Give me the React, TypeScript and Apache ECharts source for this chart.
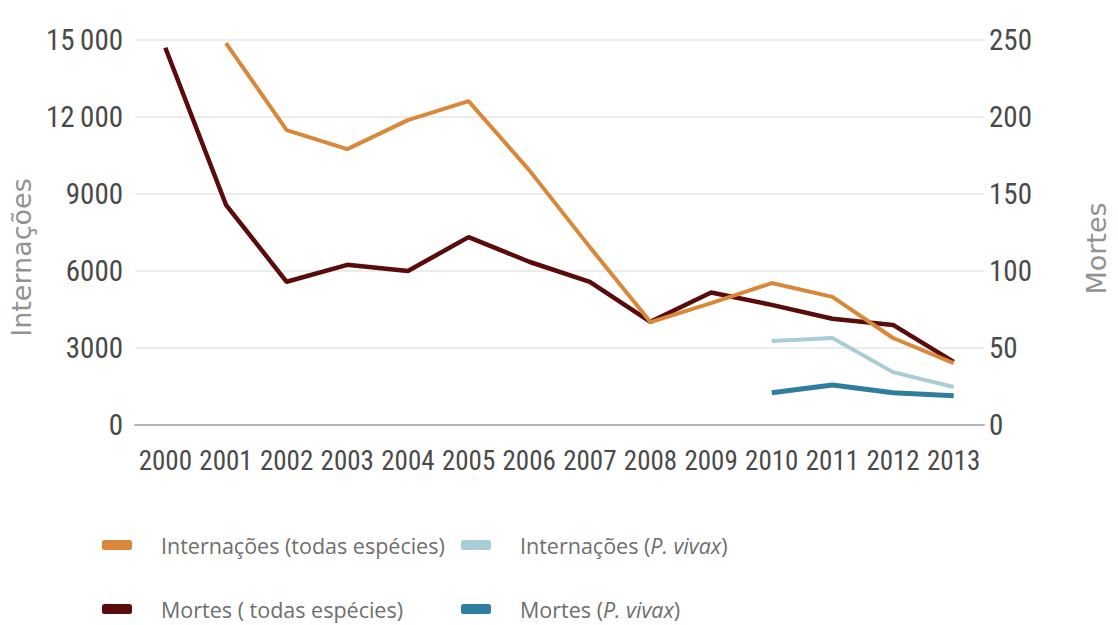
import React, { useEffect, useRef } from "react";
import * as echarts from "echarts";

const years = ["2000","2001","2002","2003","2004","2005","2006","2007","2008","2009","2010","2011","2012","2013"];
const internacoesTodas = [null, 14880, 11490, 10750, 11880, 12620, 9930, 6930, 4010, 4750, 5530, 4990, 3390, 2410];
const mortesTodas = [245, 143, 93, 104, 100, 122, 106, 93, 67, 86, 78, 69, 65, 41];
const internacoesVivax = [null, null, null, null, null, null, null, null, null, null, 3270, 3390, 2060, 1480];
const mortesVivax = [null, null, null, null, null, null, null, null, null, null, 21, 26, 21, 19];

const leftTicks = { min: 0, max: 15000, interval: 3000 };
const rightTicks = { min: 0, max: 250, interval: 50 };

const C_ORANGE = "#D9883A";
const C_DARK = "#5A0B0B";
const C_LIGHT = "#A8CDD4";
const C_BLUE = "#2F7E9F";

const legendFont = "Open Sans";
const nameFont = "DejaVu Sans";
const tickFont = "Roboto Condensed";

export default function App() {
  const ref = useRef<HTMLDivElement>(null);
  useEffect(() => {
    document.body.style.margin = "0";
    if (!ref.current) return;
    const chart = echarts.init(ref.current, undefined, { renderer: "svg" });
    const legendText = {
      color: "#6e6e6e",
      fontSize: 21.5,
      fontFamily: legendFont,
      padding: [0, 0, 0, 24],
      rich: {
        i: { fontStyle: "italic", color: "#6e6e6e", fontSize: 21.5, fontFamily: legendFont },
      },
    };
    const fmt = (name: string) => {
      if (name.indexOf("P. vivax") >= 0) {
        return name.replace("P. vivax", "{i|P. vivax}");
      }
      return name;
    };
    const mkLegend = (name: string, left: number, top: number) => ({
      data: [name],
      left,
      top,
      itemWidth: 30,
      itemHeight: 10,
      icon: "roundRect",
      formatter: fmt,
      textStyle: legendText,
    });
    const tickLabel = { color: "#4a4a4a", fontSize: 29, fontFamily: tickFont };
    chart.setOption({
      animation: false,
      backgroundColor: "#ffffff",
      grid: { left: 123, right: 121, top: 40, bottom: 200, containLabel: false },
      legend: [
        mkLegend("Internações (todas espécies)", 97, 529),
        mkLegend("Mortes ( todas espécies)", 97, 593),
        mkLegend("Internações (P. vivax)", 456, 529),
        mkLegend("Mortes (P. vivax)", 456, 593),
      ],
      xAxis: {
        type: "category",
        data: years,
        boundaryGap: true,
        axisLine: { lineStyle: { color: "#b5b5b5", width: 2 } },
        axisTick: { alignWithLabel: true, interval: 0, length: 8, lineStyle: { color: "#b5b5b5", width: 1 } },
        axisLabel: { ...tickLabel, fontSize: 27, interval: 0, margin: 22 },
        splitLine: { show: false },
      },
      yAxis: [
        {
          type: "value",
          ...leftTicks,
          position: "left",
          name: "Internações",
          nameLocation: "middle",
          nameRotate: 90,
          nameGap: 92,
          nameTextStyle: { color: "#929292", fontSize: 27, fontFamily: nameFont, padding: [0, 50, 0, 0] },
          axisLine: { show: false },
          axisTick: { show: false },
          axisLabel: {
            ...tickLabel,
            margin: 12,
            formatter: (v: number) => (v >= 10000 ? String(Math.floor(v / 1000)) + "\u2009" + String(v % 1000).padStart(3, "0") : String(v)),
          },
          splitLine: { lineStyle: { color: "#ececec", width: 2 } },
        },
        {
          type: "value",
          ...rightTicks,
          position: "right",
          name: "Mortes",
          nameLocation: "middle",
          nameRotate: 90,
          nameGap: 99,
          nameTextStyle: { color: "#929292", fontSize: 27, fontFamily: nameFont, padding: [0, 32, 0, 0] },
          axisLine: { show: false },
          axisTick: { show: false },
          axisLabel: { ...tickLabel, margin: 5 },
          splitLine: { show: false },
        },
      ],
      series: [
        {
          name: "Internações (todas espécies)",
          type: "line",
          yAxisIndex: 0,
          data: internacoesTodas,
          showSymbol: false,
          symbol: "none",
          lineStyle: { color: C_ORANGE, width: 4 },
          itemStyle: { color: C_ORANGE },
          z: 3,
        },
        {
          name: "Mortes ( todas espécies)",
          type: "line",
          yAxisIndex: 1,
          data: mortesTodas,
          showSymbol: false,
          symbol: "none",
          lineStyle: { color: C_DARK, width: 4.5 },
          itemStyle: { color: C_DARK },
          z: 2,
        },
        {
          name: "Internações (P. vivax)",
          type: "line",
          yAxisIndex: 0,
          data: internacoesVivax,
          showSymbol: false,
          symbol: "none",
          lineStyle: { color: C_LIGHT, width: 4 },
          itemStyle: { color: C_LIGHT },
        },
        {
          name: "Mortes (P. vivax)",
          type: "line",
          yAxisIndex: 1,
          data: mortesVivax,
          showSymbol: false,
          symbol: "none",
          lineStyle: { color: C_BLUE, width: 5 },
          itemStyle: { color: C_BLUE },
        },
      ],
    });
    return () => chart.dispose();
  }, []);
  return <div ref={ref} style={{ width: 1118, height: 625 }} />;
}
